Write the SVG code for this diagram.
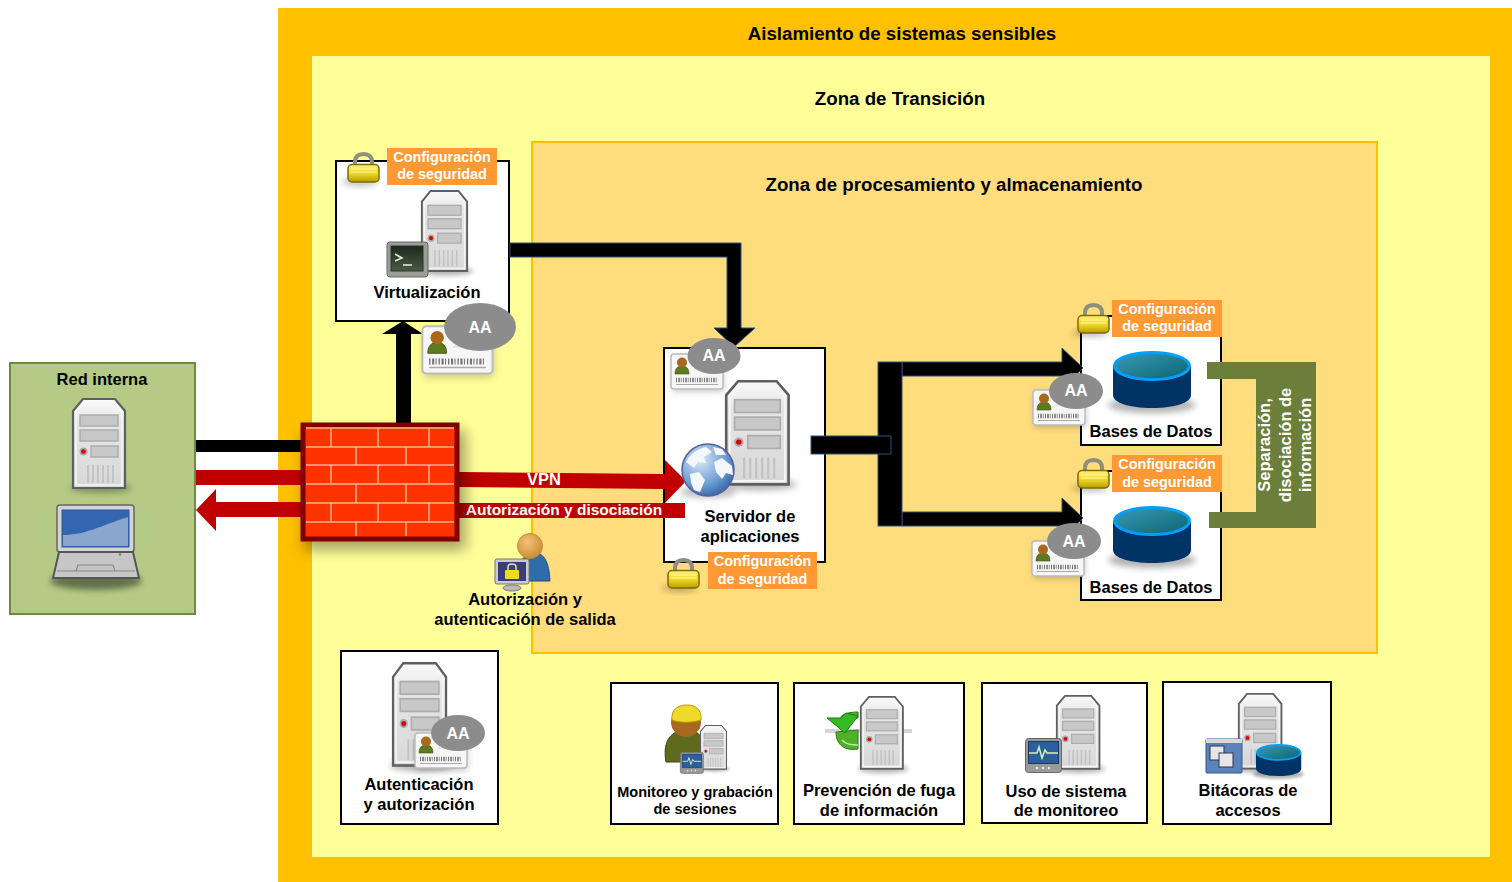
<svg xmlns="http://www.w3.org/2000/svg" width="1512" height="882" viewBox="0 0 1512 882">
<style>
text{font-family:"Liberation Sans",Arial,sans-serif;font-weight:bold;text-anchor:middle;fill:#000}
.t16{font-size:16.5px}.t18{font-size:18.7px}.t14{font-size:14.5px}.t15{font-size:15.5px}
.w{fill:#fff}.cfg{font-size:14.4px;fill:#fff}.aa{font-size:16px;fill:#fff}
.box{fill:#fff;stroke:#000;stroke-width:2}
.lab{fill:#ff9933}.el{fill:#8c8c8c}
.k{fill:#000;stroke:#2c4f7c;stroke-width:1}
.r{fill:#c00000}.g{fill:#6b7f3b}
</style>
<defs>
<filter id="b" x="-50%" y="-50%" width="200%" height="200%"><feGaussianBlur stdDeviation="3"/></filter>
<filter id="b2" x="-50%" y="-50%" width="200%" height="200%"><feGaussianBlur stdDeviation="7"/></filter>
<linearGradient id="gs" x1="0" y1="0" x2="0" y2="1"><stop offset="0" stop-color="#fbfbfb"/><stop offset=".25" stop-color="#e6e6e6"/><stop offset="1" stop-color="#d8d8d8"/></linearGradient>
<linearGradient id="gl" x1="0" y1="0" x2="0" y2="1"><stop offset="0" stop-color="#fff27a"/><stop offset=".5" stop-color="#f0d92a"/><stop offset="1" stop-color="#b89c00"/></linearGradient>
<linearGradient id="gd" x1="0" y1="0" x2="1" y2="1"><stop offset="0" stop-color="#3a9ab8"/><stop offset="1" stop-color="#0b6470"/></linearGradient>
<linearGradient id="gscr" x1="0" y1="0" x2="0" y2="1"><stop offset="0" stop-color="#3465b0"/><stop offset="1" stop-color="#8aa6cc"/></linearGradient>
<linearGradient id="gterm" x1="0" y1="0" x2="0" y2="1"><stop offset="0" stop-color="#1c2a1c"/><stop offset="1" stop-color="#4b5a45"/></linearGradient>
<radialGradient id="gg" cx=".35" cy=".3" r=".8"><stop offset="0" stop-color="#dbe8f6"/><stop offset=".6" stop-color="#6f9fd4"/><stop offset="1" stop-color="#2a5f9f"/></radialGradient>
<radialGradient id="gh" cx=".4" cy=".35" r=".7"><stop offset="0" stop-color="#f5c27a"/><stop offset="1" stop-color="#c98a30"/></radialGradient>
<g id="server">
<ellipse cx="29" cy="90" rx="31" ry="5" fill="#000" opacity=".3" filter="url(#b)"/>
<path d="M1 13 11 1H43L53 13V90H1Z" fill="url(#gs)" stroke="#5f5f5f" stroke-width="2.2"/>
<path d="M4 14 12.500 4H41.500L50 14V87H4Z" fill="none" stroke="#f6f6f6" stroke-width="1.500"/>
<rect x="8" y="17" width="38" height="11" fill="#c8c8c8" stroke="#adadad" stroke-width="1.500"/>
<rect x="8" y="32" width="38" height="11" fill="#c8c8c8" stroke="#adadad" stroke-width="1.500"/>
<rect x="19" y="48" width="27" height="11" fill="#c8c8c8" stroke="#adadad" stroke-width="1.500"/>
<circle cx="11.500" cy="53.500" r="4" fill="#aaa"/><circle cx="11.500" cy="53.500" r="2.300" fill="#e00000"/>
<path d="M16 67V85M21 67V85M26 67V85M31 67V85M36 67V85M41 67V85" stroke="#c2c2c2" stroke-width="1.800"/>
</g>
<g id="lock">
<ellipse cx="13" cy="30" rx="18" ry="4" fill="#000" opacity=".25" filter="url(#b)"/>
<path d="M8 15V10C8 4 12 2 16.500 2S25 4 25 10V15" fill="none" stroke="#8f8f80" stroke-width="4"/>
<rect x="1" y="12.500" width="31" height="17.500" rx="4" fill="url(#gl)" stroke="#7d6c00" stroke-width="1.500"/>
<path d="M4 17H29M4 20H29" stroke="#fff6a0" stroke-width="1"/>
</g>
<g id="card">
<rect x="2" y="3" width="52" height="36" rx="3" fill="#000" opacity=".2" filter="url(#b)"/>
<rect x="1" y="1" width="52" height="35" rx="3" fill="#f6f6f6" stroke="#bcbcbc" stroke-width="1.500"/>
<path d="M5 21C5 15 8 13 12 13S19 15 19 21Z" fill="#5e7a1f" stroke="#3f5212" stroke-width=".6"/>
<circle cx="12" cy="9.500" r="5" fill="#a8691f"/>
<path d="M24 13H44M24 16H40" stroke="#dcdcdc" stroke-width="1.200"/>
<path d="M6 27H48" stroke="#777" stroke-width="4.500" stroke-dasharray="1 1.200 1.600 1 .8 1.400"/>
<path d="M6 31.500H48" stroke="#aaa" stroke-width="1"/>
</g>
<g id="db">
<ellipse cx="39" cy="54" rx="44" ry="8" fill="#000" opacity=".3" filter="url(#b)"/>
<path d="M0 15V44C0 52 17 57 39 57S78 52 78 44V15Z" fill="#003366"/>
<ellipse cx="39" cy="15" rx="37.500" ry="13.500" fill="url(#gd)" stroke="#00a0ff" stroke-width="3"/>
</g>
<g id="monitor">
<rect x=".500" y=".500" width="36" height="34" rx="3" fill="#9a9a9a" stroke="#666"/>
<rect x="3.500" y="3.500" width="30" height="22" fill="#2b5f9e" stroke="#1a3a66"/>
<polyline points="4,15 12,15 14,9 17,20 20,12 22,15 33,15" fill="none" stroke="#d9f0b0" stroke-width="1.500"/>
<circle cx="12" cy="30" r="1.300" fill="#e8e8e8"/><circle cx="18" cy="30" r="1.300" fill="#e8e8e8"/><circle cx="24" cy="30" r="1.300" fill="#e8e8e8"/>
</g>
</defs>

<g id="zones">
<rect x="278" y="8" width="1234" height="874" fill="#ffc000"/>
<rect x="312" y="56" width="1178" height="801" fill="#ffff99"/>
<rect x="532" y="142" width="845" height="511" fill="#ffdd7d" stroke="#ffc000" stroke-width="2"/>
<text class="t18" x="902" y="40">Aislamiento de sistemas sensibles</text>
<text class="t18" x="900" y="105">Zona de Transición</text>
<text class="t18" x="954" y="191">Zona de procesamiento y almacenamiento</text>
</g>

<g id="red-interna">
<rect x="10" y="363" width="185" height="251" fill="#b5cb85" stroke="#6f8a45" stroke-width="2"/>
<text class="t16" x="102" y="385">Red interna</text>
<use href="#server" transform="translate(72,398)"/>
<ellipse cx="96" cy="581" rx="46" ry="9" fill="#000" opacity=".45" filter="url(#b)"/>
<rect x="57" y="505" width="77" height="47" rx="3" fill="#d4d4d4" stroke="#666" stroke-width="1.500"/>
<rect x="62" y="510" width="67" height="37" fill="#3465b0" stroke="#2d5a9e"/>
<path d="M63 546V535C85 535 100 526 128 517V546Z" fill="#8aa6cc"/>
<path d="M59 552H133L139 578H53Z" fill="#c6c6c6" stroke="#555" stroke-width="2"/>
<path d="M57 571H135M76 571 78 565H113L115 571" fill="none" stroke="#888" stroke-width="1.200"/>
<circle cx="120" cy="554.500" r="1.300" fill="#33aa22"/>
</g>

<g id="node-virtualizacion">
<rect class="box" x="336" y="161" width="173" height="160"/>
<use href="#server" transform="translate(421,190) scale(.87,.9)"/>
<rect x="387" y="242" width="41" height="35" rx="3" fill="#9a9e96" stroke="#6a6a6a"/>
<rect x="391" y="246" width="32" height="25" fill="url(#gterm)" stroke="#333"/>
<path d="M395 254 402 258 395 261M403 265H412" fill="none" stroke="#e5f5d8" stroke-width="1.500"/>
<text class="t16" x="427" y="298">Virtualización</text>
</g>

<g id="node-app">
<rect class="box" x="664" y="348" width="161" height="214"/>
<use href="#server" transform="translate(725,380) scale(1.200,1.160)"/>
<text class="t16" x="750" y="522">Servidor de</text>
<text class="t16" x="750" y="542">aplicaciones</text>
</g>

<g id="node-bd1">
<rect class="box" x="1081" y="316" width="140" height="129"/>
<use href="#db" transform="translate(1113,351)"/>
<text class="t16" x="1151" y="437">Bases de Datos</text>
</g>
<g id="node-bd2">
<rect class="box" x="1081" y="471" width="140" height="129"/>
<use href="#db" transform="translate(1113,506)"/>
<text class="t16" x="1151" y="593">Bases de Datos</text>
</g>

<g id="connectors">
<path class="k" d="M510 243H741V328H755L734 347 714 328H727V257H510Z"/>
<rect x="396" y="333" width="15" height="92" fill="#000"/>
<path d="M403 321 423 334H382Z" fill="#000"/>
<rect x="196" y="440" width="106" height="12" fill="#000"/>
<rect class="r" x="196" y="470" width="106" height="15"/>
<path class="r" d="M196 510 216 489V502H302V517H216V531Z"/>
<path class="r" d="M459 472 665 474V460L686 481 665 503V489L459 487Z"/>
<rect class="r" x="459" y="503" width="226" height="15"/>
<text class="t16 w" x="544" y="485">VPN</text>
<text class="t15 w" x="564" y="515">Autorización y disociación</text>
<path class="k" d="M902 362H1062V348L1083 368 1062 389V376H902Z"/>
<path class="k" d="M902 512H1062V498L1083 518 1062 540V526H902Z"/>
<rect class="k" x="878" y="362" width="24" height="164"/>
<rect class="k" x="811" y="436" width="80" height="18"/>
<path class="g" d="M1207 362H1316V528H1209V512H1256V379H1207Z"/>
<g transform="translate(1270,445) rotate(-90)"><text class="t16 w">Separación,</text></g>
<g transform="translate(1291,445) rotate(-90)"><text class="t16 w">disociación de</text></g>
<g transform="translate(1311,445) rotate(-90)"><text class="t16 w">información</text></g>
</g>

<g id="firewall">
<rect x="304" y="430" width="162" height="120" fill="#000" opacity=".35" filter="url(#b2)"/>
<rect x="303" y="425" width="154" height="114" fill="#ff3300" stroke="#800000" stroke-width="5"/>
<path d="M306 428H454M306 447H454M306 465H454M306 484H454M306 503H454M306 522H454M331 428V447M378 428V447M429 428V447M356 447V465M406 447V465M331 465V484M378 465V484M429 465V484M356 484V503M406 484V503M331 503V522M378 503V522M429 503V522M356 522V536M406 522V536" fill="none" stroke="#ffb090" stroke-width="1.500"/>
</g>

<g id="badge-virtualizacion">
<use href="#lock" transform="translate(347,152)"/>
<rect class="lab" x="387" y="148" width="110" height="37"/>
<text class="cfg" x="442" y="162">Configuración</text><text class="cfg" x="442" y="179">de seguridad</text>
<use href="#card" transform="translate(421,325) scale(1.350,1.350)"/>
<ellipse class="el" cx="480" cy="327" rx="36" ry="24"/>
<text class="aa" x="480" y="333">AA</text>
</g>

<g id="badge-app">
<use href="#card" transform="translate(670,353)"/>
<ellipse class="el" cx="714" cy="356" rx="26.500" ry="18"/>
<text class="aa" x="714" y="361">AA</text>
<ellipse cx="708" cy="492" rx="28" ry="6" fill="#000" opacity=".25" filter="url(#b)"/>
<circle cx="708" cy="470" r="26" fill="url(#gg)" stroke="#5a5f9e" stroke-width="1.500"/>
<path d="M686 462C691 453 698 449 706 447L712 452 704 457 706 463 698 462 694 468ZM690 474 699 472 705 480 700 492 694 490 691 482ZM714 462 722 458 732 466 733 475 726 473 722 479 716 472ZM713 447 722 449 726 455 716 455Z" fill="#f4f8fc"/>
<use href="#lock" transform="translate(667,558)"/>
<rect class="lab" x="708" y="552" width="109" height="37"/>
<text class="cfg" x="762.500" y="566">Configuración</text><text class="cfg" x="762.500" y="584">de seguridad</text>
</g>

<g id="badge-bd1">
<use href="#card" transform="translate(1032,389)"/>
<ellipse class="el" cx="1076" cy="391" rx="27" ry="18"/>
<text class="aa" x="1076" y="396">AA</text>
<use href="#lock" transform="translate(1077,303)"/>
<rect class="lab" x="1112" y="300" width="110" height="37"/>
<text class="cfg" x="1167" y="314">Configuración</text><text class="cfg" x="1167" y="331">de seguridad</text>
</g>
<g id="badge-bd2">
<use href="#card" transform="translate(1031,540)"/>
<ellipse class="el" cx="1074" cy="541" rx="27" ry="18"/>
<text class="aa" x="1074" y="547">AA</text>
<use href="#lock" transform="translate(1077,458)"/>
<rect class="lab" x="1112" y="455" width="110" height="37"/>
<text class="cfg" x="1167" y="469">Configuración</text><text class="cfg" x="1167" y="487">de seguridad</text>
</g>

<g id="node-autorizacion-salida">
<path d="M515 581C517 560 526 553 535 553S549 562 550 581Z" fill="#2f6cab" stroke="#1d4a7c"/>
<circle cx="530" cy="546" r="12.500" fill="url(#gh)" stroke="#c98a30"/>
<ellipse cx="512" cy="588" rx="9" ry="3" fill="#bbb" stroke="#777"/>
<rect x="495" y="559" width="34" height="25" rx="2" fill="#ccc" stroke="#777"/>
<rect x="498" y="562" width="28" height="19" fill="#3b3d7a"/>
<rect x="505" y="570" width="14" height="9" rx="1" fill="#f0d92a"/>
<path d="M508 570V567C508 563 516 563 516 567V570" fill="none" stroke="#ddd" stroke-width="1.500"/>
<text class="t16" x="525" y="605">Autorización y</text>
<text class="t16" x="525" y="625">autenticación de salida</text>
</g>

<g id="node-autenticacion">
<rect class="box" x="341" y="651" width="157" height="173"/>
<use href="#server" transform="translate(392,662) scale(1.020,1.150)"/>
<use href="#card" transform="translate(414,732)"/>
<ellipse class="el" cx="458" cy="733" rx="27" ry="18"/>
<text class="aa" x="458" y="739">AA</text>
<text class="t16" x="419" y="790">Autenticación</text>
<text class="t16" x="419" y="810">y autorización</text>
</g>

<g id="node-monitoreo">
<rect class="box" x="611" y="683" width="167" height="141"/>
<path d="M666 762C662 740 672 730 686 730S708 740 706 762Z" fill="#5f6a1c" stroke="#3e4610"/>
<circle cx="686" cy="722" r="15" fill="#a8691f"/>
<path d="M672 720C671 709 678 705 687 705S702 710 701 720C692 723 680 723 672 720Z" fill="#f0d92a" stroke="#b89c00"/>
<use href="#server" transform="translate(700,725) scale(.5,.49)"/>
<use href="#monitor" transform="translate(680,752) scale(.64,.62)"/>
<text class="t14" x="695" y="797">Monitoreo y grabación</text>
<text class="t14" x="695" y="814">de sesiones</text>
</g>

<g id="node-prevencion">
<rect class="box" x="794" y="683" width="170" height="141"/>
<path d="M825 731H912" stroke="#d4d4d4" stroke-width="4"/>
<path d="M842 719C838 716 846 712 858 712V718C852 718 848 722 845 724ZM836 732 858 730V749C846 751 836 746 836 732Z" fill="#4fb02c" stroke="#2a7a18"/>
<path d="M827 718H841L846 713 858 716 845 733Z" fill="#33bb22" stroke="#1f7a14"/>
<path d="M842 740C848 746 852 744 858 745" fill="none" stroke="#c2e8b0" stroke-width="1.500"/>
<use href="#server" transform="translate(860,696) scale(.81,.81)"/>
<text class="t16" x="879" y="796">Prevención de fuga</text>
<text class="t16" x="879" y="816">de información</text>
</g>

<g id="node-uso">
<rect class="box" x="982" y="683" width="165" height="140"/>
<use href="#server" transform="translate(1056,695) scale(.82,.82)"/>
<use href="#monitor" transform="translate(1025,738)"/>
<text class="t16" x="1066" y="797">Uso de sistema</text>
<text class="t16" x="1066" y="816">de monitoreo</text>
</g>

<g id="node-bitacoras">
<rect class="box" x="1163" y="682" width="168" height="142"/>
<use href="#server" transform="translate(1238,693) scale(.82,.84)"/>
<rect x="1206" y="739" width="36" height="34" rx="1" fill="#5a83bb" stroke="#34578a"/>
<rect x="1206" y="739" width="36" height="4" fill="#d8d8d8"/>
<rect x="1210" y="746" width="14" height="14" fill="#e6e6e6" stroke="#335"/>
<rect x="1219" y="753" width="14" height="14" fill="#e6e6e6" stroke="#335"/>
<use href="#db" transform="translate(1256,744) scale(.58,.56)"/>
<text class="t16" x="1248" y="796">Bitácoras de</text>
<text class="t16" x="1248" y="816">accesos</text>
</g>
</svg>
